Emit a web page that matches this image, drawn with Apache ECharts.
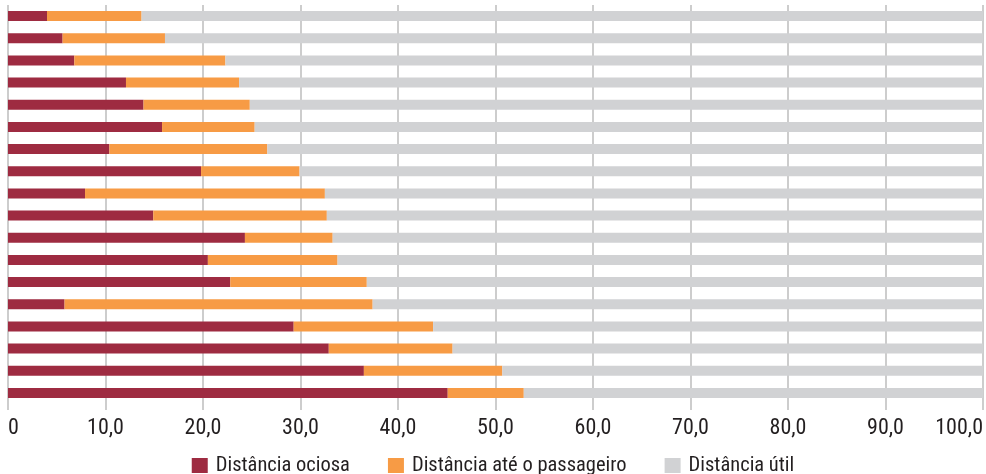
<!DOCTYPE html>
<html>
<head>
<meta charset="utf-8">
<script src="https://cdn.jsdelivr.net/npm/echarts@6/dist/echarts.min.js"></script>
<style>html,body{margin:0;padding:0;background:#fff;}#c{width:986px;height:474px;}</style>
</head>
<body>
<div id="c"></div>
<script>
const categories = ['1','2','3','4','5','6','7','8','9','10','11','12','13','14','15','16','17','18'];
const seriesNames = ['Distância ociosa', 'Distância até o passageiro', 'Distância útil'];
const ociosa = [4.0, 5.6, 6.8, 12.1, 13.9, 15.8, 10.4, 19.8, 7.9, 14.9, 24.3, 20.5, 22.8, 5.8, 29.3, 32.9, 36.5, 45.1];
const passageiro = [9.7, 10.5, 15.5, 11.6, 10.9, 9.5, 16.2, 10.1, 24.6, 17.8, 9.0, 13.3, 14.0, 31.6, 14.3, 12.7, 14.2, 7.8];
const util = [86.3, 83.9, 77.7, 76.3, 75.2, 74.7, 73.4, 70.1, 67.5, 67.3, 66.7, 66.2, 63.2, 62.6, 56.4, 54.4, 49.3, 47.1];
const tickLabels = ['0', '10,0', '20,0', '30,0', '40,0', '50,0', '60,0', '70,0', '80,0', '90,0', '100,0'];

const colors = ['#9E2B41', '#F79B45', '#D1D2D4'];
const font = "'Roboto Condensed', 'Liberation Sans Narrow', sans-serif";
const chart = echarts.init(document.getElementById('c'), null, {renderer: 'canvas'});
const mk = (name, data, i) => ({
  name: name, type: 'bar', stack: 'total', data: data, barWidth: 10,
  itemStyle: {color: colors[i]}, emphasis: {disabled: true}, animation: false
});
chart.setOption({
  animation: false,
  textStyle: {fontFamily: font},
  grid: {left: 8, right: 2.5, top: 5, bottom: 70, containLabel: false},
  xAxis: {
    type: 'value', min: 0, max: 100, interval: 10,
    axisLine: {show: false},
    axisTick: {show: true, length: 6, lineStyle: {color: '#BDBDBD', width: 1.5}},
    splitLine: {show: true, lineStyle: {color: '#BDBDBD', width: 1.5}},
    axisLabel: {
      margin: 13, fontSize: 22, color: '#231F20', fontFamily: font,
      alignMinLabel: 'left', alignMaxLabel: 'right',
      formatter: function (v) { return tickLabels[Math.round(v / 10)]; }
    }
  },
  yAxis: {
    type: 'category', data: categories, inverse: true,
    axisLine: {show: false}, axisTick: {show: false}, axisLabel: {show: false}, splitLine: {show: false}
  },
  legend: {
    data: seriesNames, top: 455, left: 'center', padding: 0,
    itemWidth: 16, itemHeight: 15, itemGap: 38,
    icon: 'rect',
    textStyle: {fontSize: 20.5, color: '#231F20', fontFamily: font, padding: [0, 0, 0, 3]}
  },
  series: [mk(seriesNames[0], ociosa, 0), mk(seriesNames[1], passageiro, 1), mk(seriesNames[2], util, 2)]
});
</script>
</body>
</html>
